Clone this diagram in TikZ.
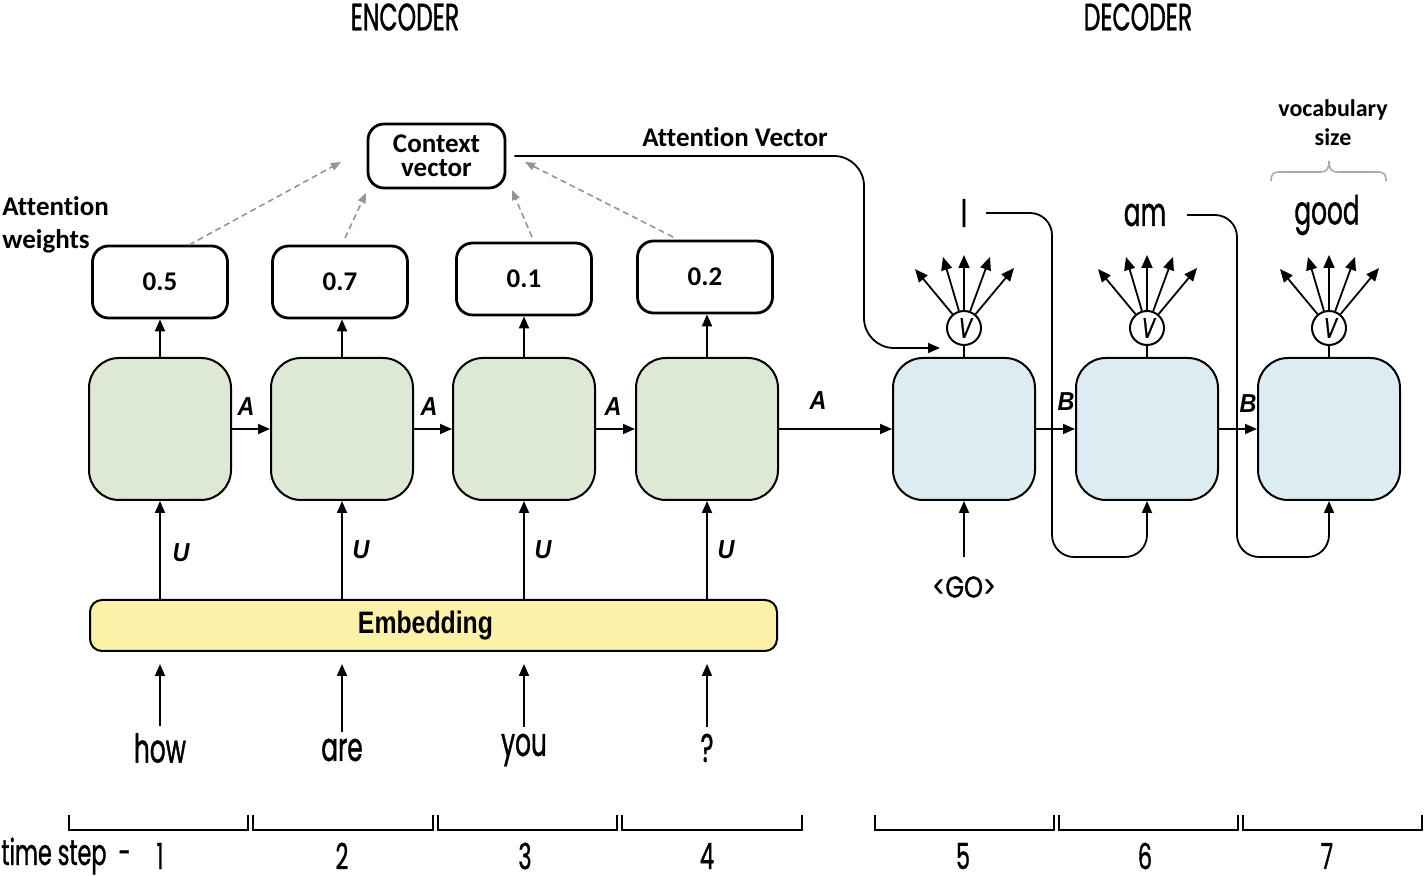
\documentclass[tikz,border=0pt]{standalone}
\usepackage{fontspec}
\setmainfont{Carlito}[Ligatures=NoCommon]
\newfontfamily\cond[FakeStretch=0.62,FakeBold=0.9]{Poppins}
\newfontfamily\condgo[FakeStretch=0.8,FakeBold=0.9]{Poppins}
\newfontfamily\condsl[FakeStretch=0.7,FakeSlant=0.15,FakeBold=0.9]{Poppins}
\newfontfamily\narrow[FakeStretch=0.8]{Liberation Sans}
\newfontfamily\narrowi[FakeStretch=0.9]{Liberation Sans}
\usetikzlibrary{arrows.meta}
\definecolor{encg}{HTML}{DDE8D5}
\definecolor{decb}{HTML}{DDEBF3}
\definecolor{embY}{HTML}{FCF1A9}
\definecolor{dashg}{HTML}{8E9894}
\definecolor{braceg}{HTML}{A3ABB3}
\begin{document}
\begin{tikzpicture}[x=0.5pt,y=-0.5pt,
 cell/.style={draw, line width=1pt, rounded corners=15pt, minimum width=71pt, minimum height=71pt, inner sep=0pt},
 enc/.style={cell, fill=encg},
 dec/.style={cell, fill=decb},
 wbox/.style={draw, line width=1.4pt, rounded corners=8pt, minimum width=67.5pt, minimum height=36pt, inner sep=0pt, font=\fontsize{13.5}{15}\selectfont\bfseries},
 arr/.style={-{Triangle[length=6pt,width=5pt]}, line width=0.9pt},
 dasharr/.style={-{Triangle[length=5pt,width=4pt]}, dash pattern=on 3pt off 2pt, line width=0.8pt, dashg},
 word/.style={font=\fontsize{20}{22}\cond},
 title/.style={font=\fontsize{19}{21}\cond},
 num/.style={font=\fontsize{18}{20}\cond, inner sep=0pt},
 lbl/.style={font=\fontsize{13}{15}\narrowi\bfseries\itshape},
 cal/.style={font=\fontsize{13.5}{12}\selectfont\bfseries},
 vcirc/.style={draw, circle, line width=1pt, minimum size=17pt, inner sep=0pt, fill=white, font=\fontsize{14}{16}\condsl}
]
\useasboundingbox (0,0) rectangle (1425,876);

% titles
\node[title] (enctitle) at (405,17) {ENCODER};
\node[title] (dectitle) at (1138,17) {DECODER};

% encoder cells
\node[enc] (e1) at (160,429) {};
\node[enc] (e2) at (342,429) {};
\node[enc] (e3) at (524,429) {};
\node[enc] (e4) at (707,429) {};
% decoder cells
\node[dec] (d1) at (964,429) {};
\node[dec] (d2) at (1147,429) {};
\node[dec] (d3) at (1329,429) {};

% embedding
\node[draw, line width=1pt, fill=embY, rounded corners=6pt, minimum width=343.5pt, minimum height=25.5pt, inner sep=0pt, font=\fontsize{15.5}{17}\narrow\bfseries] (emb) at (433.5,625.5) {\hspace*{-8pt}Embedding};

% attention weight boxes
\node[wbox] (w1) at (160,282) {0.5};
\node[wbox] (w2) at (340,282) {0.7};
\node[wbox] (w3) at (524,279) {0.1};
\node[wbox] (w4) at (705,277) {0.2};

% context vector
\node[draw, line width=1.4pt, rounded corners=8pt, minimum width=68.5pt, minimum height=32pt, align=center, inner sep=0pt, cal] (ctx) at (436.5,156) {Context\\vector};

% attention labels
\node[anchor=west, align=left, inner sep=1pt, font=\fontsize{13.5}{16.5}\selectfont\bfseries] (awl) at (0,225) {Attention\\weights};
\node[cal] (avl) at (735,137) {Attention Vector};

% dashed arrows to context
\coordinate (da1s) at (189,245); \coordinate (da1e) at (341,162);
\coordinate (da2s) at (345,238); \coordinate (da2e) at (366,193);
\coordinate (da3s) at (532,237); \coordinate (da3e) at (512,190);
\coordinate (da4s) at (673,237); \coordinate (da4e) at (525,162);
\draw[dasharr] (da1s) -- (da1e);
\draw[dasharr] (da2s) -- (da2e);
\draw[dasharr] (da3s) -- (da3e);
\draw[dasharr] (da4s) -- (da4e);

% cell -> weight arrows
\draw[arr] (e1.north) -- (e1.north |- w1.south);
\draw[arr] (e2.north) -- (e2.north |- w2.south);
\draw[arr] (e3.north) -- (e3.north |- w3.south);
\draw[arr] (e4.north) -- (e4.north |- w4.south);

% recurrent arrows
\draw[arr] (e1.east) -- (e2.west);
\draw[arr] (e2.east) -- (e3.west);
\draw[arr] (e3.east) -- (e4.west);
\draw[arr] (e4.east) -- (d1.west);
\draw[arr] (d1.east) -- (d2.west);
\draw[arr] (d2.east) -- (d3.west);
\node[lbl] (la1) at (246,407) {A};
\node[lbl] (la2) at (429,407) {A};
\node[lbl] (la3) at (613,407) {A};
\node[lbl] (la4) at (818,401) {A};
\node[lbl] (lb1) at (1066,402) {B};
\node[lbl] (lb2) at (1248,404) {B};

% U arrows
\draw[arr] (emb.north -| e1) -- (e1.south);
\draw[arr] (emb.north -| e2) -- (e2.south);
\draw[arr] (emb.north -| e3) -- (e3.south);
\draw[arr] (emb.north -| e4) -- (e4.south);
\node[lbl] (lu1) at (181,553) {U};
\node[lbl] (lu2) at (361,550) {U};
\node[lbl] (lu3) at (543,550) {U};
\node[lbl] (lu4) at (726,550) {U};

% input words
\node[word] (how) at (160,748) {how};
\node[word] (are) at (342,750) {are};
\node[word] (you) at (524,750) {you};
\node[word] (qm) at (707,748) {?};
\draw[arr, shorten >=6pt] (how.north) -- (how.north |- emb.south);
\draw[arr, shorten >=6pt] (are.north) -- (are.north |- emb.south);
\draw[arr, shorten >=6pt] (you.north) -- (you.north |- emb.south);
\draw[arr, shorten >=6pt] (qm.north) -- (qm.north |- emb.south);

% GO
\node[font=\fontsize{15}{17}\condgo] (go) at (964,587) {<GO>};
\draw[arr, shorten <=6pt] (go.north) -- (d1.south);

% V circles and fans
\node[vcirc] (v1) at (964,328) {V};
\node[vcirc] (v2) at (1147,328) {V};
\node[vcirc] (v3) at (1329,328) {V};
\draw[line width=1pt] (v1.south) -- (d1.north);
\draw[line width=1pt] (v2.south) -- (d2.north);
\draw[line width=1pt] (v3.south) -- (d3.north);
\foreach \v in {v1,v2,v3}{
  \foreach \dx/\dy in {-49/-59,-21/-71,0/-73,26/-71,50/-60}{
    \draw[arr, -{Triangle[length=6.5pt,width=5.5pt]}] (\v) -- ++(\dx,\dy);
  }
}

% output words
\node[word] (o1) at (964,213) {I};
\node[word] (o2) at (1145,215) {am};
\node[word] (o3) at (1327,215) {good};

% feedback connectors
\coordinate (fb1) at (1052,557);
\coordinate (fb2) at (1237,557);
\draw[arr, rounded corners=11pt] ([xshift=6pt]o1.east) -| (fb1) -| (d2.south);
\draw[arr, rounded corners=11pt] ([xshift=7pt]o2.east) -| (fb2) -| (d3.south);

% attention vector connector
\coordinate (attncorner) at (864,348);
\coordinate (attnend) at (940,348);
\draw[arr, rounded corners=15pt] ([xshift=4pt]ctx.east) -| (attncorner) -- (attnend);

% vocabulary size
\node[align=center, font=\fontsize{12}{14.5}\selectfont\bfseries] (voc) at (1333,123) {vocabulary\\size};
\draw[braceg, line width=0.8pt] (1271,181) .. controls (1271,174) and (1273,172) .. (1280,172) -- (1320,172) .. controls (1327,172) and (1329,169) .. (1329,161) .. controls (1329,169) and (1331,172) .. (1338,172) -- (1377,172) .. controls (1384,172) and (1386,174) .. (1386,181);

% time steps
\foreach \a/\b in {69/248, 253/433, 438/617, 622/802, 875/1054, 1059/1238, 1243/1422}{
  \draw[line width=1pt] (\a,815) -- (\a,830) -- (\b,830) -- (\b,815);
}
\node[num, anchor=west] (ts) at (1,856) {time step\hspace{6pt}-};
\node[num] (t1) at (160,856) {1};
\node[num] (t2) at (342,856) {2};
\node[num] (t3) at (525,856) {3};
\node[num] (t4) at (707,856) {4};
\node[num] (t5) at (963,856) {5};
\node[num] (t6) at (1145,856) {6};
\node[num] (t7) at (1327,856) {7};
\end{tikzpicture}
\end{document}
